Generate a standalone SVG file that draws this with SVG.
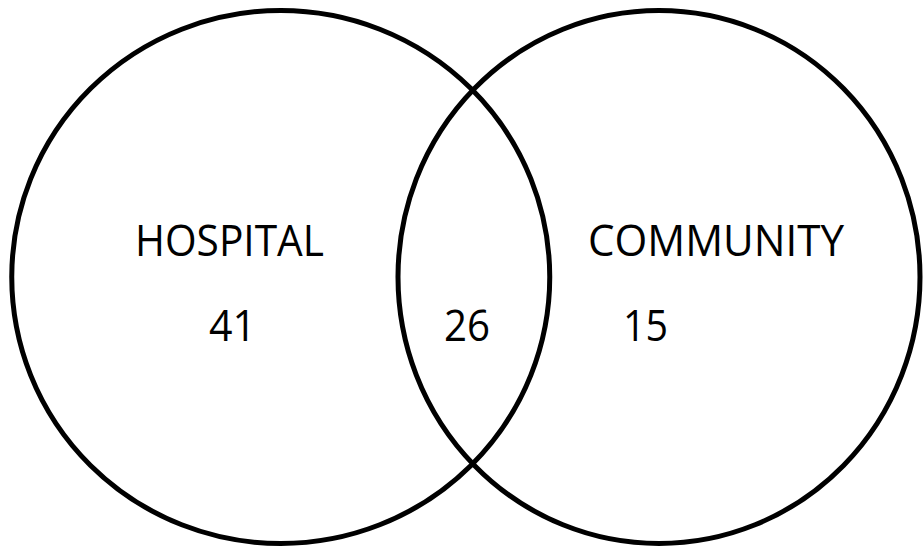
<svg xmlns="http://www.w3.org/2000/svg" width="923" height="546" viewBox="0 0 923 546">
<style>
.set{fill:none;stroke:#000;stroke-width:5}
.lbl{font-family:"Open Sans","Liberation Sans",sans-serif;font-size:43px;fill:#000}
</style>
<rect width="923" height="546" fill="#fff"/>
<g id="hospital">
<ellipse class="set" cx="280.75" cy="277" rx="269" ry="266.5"/>
<text class="lbl" x="135" y="256" textLength="189" lengthAdjust="spacingAndGlyphs">HOSPITAL</text>
<text class="lbl" x="209" y="341" textLength="47" lengthAdjust="spacingAndGlyphs">41</text>
</g>
<g id="community">
<ellipse class="set" cx="659" cy="277" rx="261" ry="266.5"/>
<text class="lbl" x="588" y="256" textLength="256" lengthAdjust="spacingAndGlyphs">COMMUNITY</text>
<text class="lbl" x="623" y="341" textLength="45" lengthAdjust="spacingAndGlyphs">15</text>
</g>
<g id="overlap">
<text class="lbl" x="444" y="341" textLength="46" lengthAdjust="spacingAndGlyphs">26</text>
</g>
<g id="connectors"/>
</svg>
